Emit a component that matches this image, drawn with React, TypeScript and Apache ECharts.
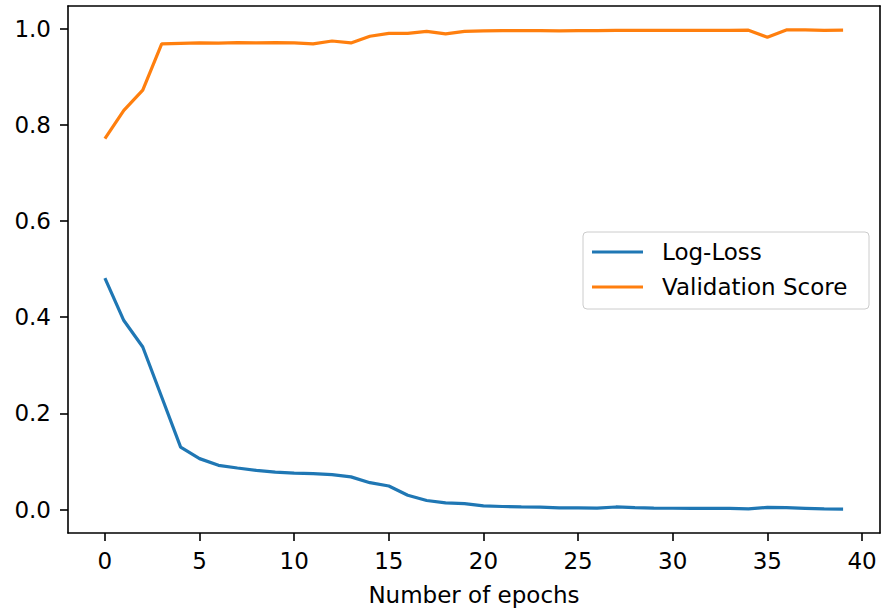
import React, { useEffect, useRef } from "react";
import * as echarts from "echarts";

const epochs: number[] = Array.from({ length: 40 }, (_, i) => i);
const logLoss: number[] = [
  0.481, 0.393, 0.338, 0.234, 0.13, 0.106, 0.092, 0.0865, 0.0816, 0.078,
  0.076, 0.0747, 0.0726, 0.068, 0.056, 0.049, 0.03, 0.019, 0.014, 0.0125,
  0.0077, 0.0065, 0.0055, 0.005, 0.0035, 0.0035, 0.003, 0.0055, 0.004, 0.003,
  0.0028, 0.0025, 0.0025, 0.0025, 0.0014, 0.0048, 0.004, 0.0027, 0.0014, 0.0012,
];
const validationScore: number[] = [
  0.771, 0.83, 0.872, 0.968, 0.969, 0.97, 0.9695, 0.9705, 0.97, 0.9705,
  0.97, 0.968, 0.974, 0.97, 0.984, 0.99, 0.99, 0.994, 0.989, 0.994,
  0.995, 0.9955, 0.9955, 0.9955, 0.995, 0.9955, 0.9955, 0.996, 0.996, 0.996,
  0.996, 0.996, 0.996, 0.996, 0.9965, 0.982, 0.997, 0.997, 0.996, 0.9965,
];
const xTicks: number[] = [0, 5, 10, 15, 20, 25, 30, 35, 40];
const yTicks: number[] = [0, 0.2, 0.4, 0.6, 0.8, 1.0];
const seriesNames: string[] = ["Log-Loss", "Validation Score"];
const xTitle = "Number of epochs";

const FONT = "DejaVu Sans";
const X_MIN = -1.95;
const X_MAX = 40.95;
const Y_MIN = -0.0486;
const Y_MAX = 1.0468;

const spine = { show: true, onZero: false, lineStyle: { color: "#000", width: 1.6 } };

export default function App() {
  const ref = useRef<HTMLDivElement>(null);
  useEffect(() => {
    if (!ref.current) return;
    const chart = echarts.init(ref.current, undefined, { renderer: "svg" });
    chart.setOption({
      animation: false,
      grid: {
        left: 68,
        top: 6,
        width: 812,
        height: 527,
      },
      legend: {
        orient: "vertical",
        left: 583,
        top: 232,
        padding: [8, 11, 10, 9],
        itemWidth: 51,
        itemHeight: 3,
        itemGap: 11,
        icon: "rect",
        backgroundColor: "#fff",
        borderColor: "#cccccc",
        borderWidth: 1,
        borderRadius: 4,
        textStyle: {
          fontFamily: FONT,
          fontSize: 23,
          color: "#000",
          lineHeight: 24,
          padding: [0, 0, 0, 14],
          width: 196,
        },
        data: seriesNames,
      },
      xAxis: [
        {
          type: "value",
          min: X_MIN,
          max: X_MAX,
          name: xTitle,
          nameLocation: "middle",
          nameGap: 50,
          nameTextStyle: { fontFamily: FONT, fontSize: 23, color: "#000" },
          axisLine: spine,
          splitLine: { show: false },
          axisTick: {
            show: true,
            length: 8,
            lineStyle: { color: "#000", width: 1.6 },
            customValues: xTicks,
          },
          axisLabel: {
            fontFamily: FONT,
            fontSize: 23,
            color: "#000",
            margin: 16,
            customValues: xTicks,
            formatter: (v: number) => String(v),
          },
        },
        {
          type: "value",
          position: "top",
          min: X_MIN,
          max: X_MAX,
          axisLine: spine,
          axisTick: { show: false },
          axisLabel: { show: false },
          splitLine: { show: false },
        },
      ],
      yAxis: [
        {
          type: "value",
          min: Y_MIN,
          max: Y_MAX,
          axisLine: spine,
          splitLine: { show: false },
          axisTick: {
            show: true,
            length: 8,
            lineStyle: { color: "#000", width: 1.6 },
            customValues: yTicks,
          },
          axisLabel: {
            fontFamily: FONT,
            fontSize: 23,
            color: "#000",
            margin: 17,
            customValues: yTicks,
            formatter: (v: number) => v.toFixed(1),
          },
        },
        {
          type: "value",
          position: "right",
          min: Y_MIN,
          max: Y_MAX,
          axisLine: spine,
          axisTick: { show: false },
          axisLabel: { show: false },
          splitLine: { show: false },
        },
      ],
      series: [
        {
          name: seriesNames[0],
          type: "line",
          data: epochs.map((e, i) => [e, logLoss[i]]),
          showSymbol: false,
          symbol: "none",
          color: "#1f77b4",
          lineStyle: { color: "#1f77b4", width: 3.2 },
        },
        {
          name: seriesNames[1],
          type: "line",
          data: epochs.map((e, i) => [e, validationScore[i]]),
          showSymbol: false,
          symbol: "none",
          color: "#ff7f0e",
          lineStyle: { color: "#ff7f0e", width: 3.2 },
        },
      ],
    });
    return () => chart.dispose();
  }, []);
  return (
    <div
      ref={ref}
      style={{ position: "fixed", left: 0, top: 0, width: 883, height: 613, background: "#fff" }}
    />
  );
}
